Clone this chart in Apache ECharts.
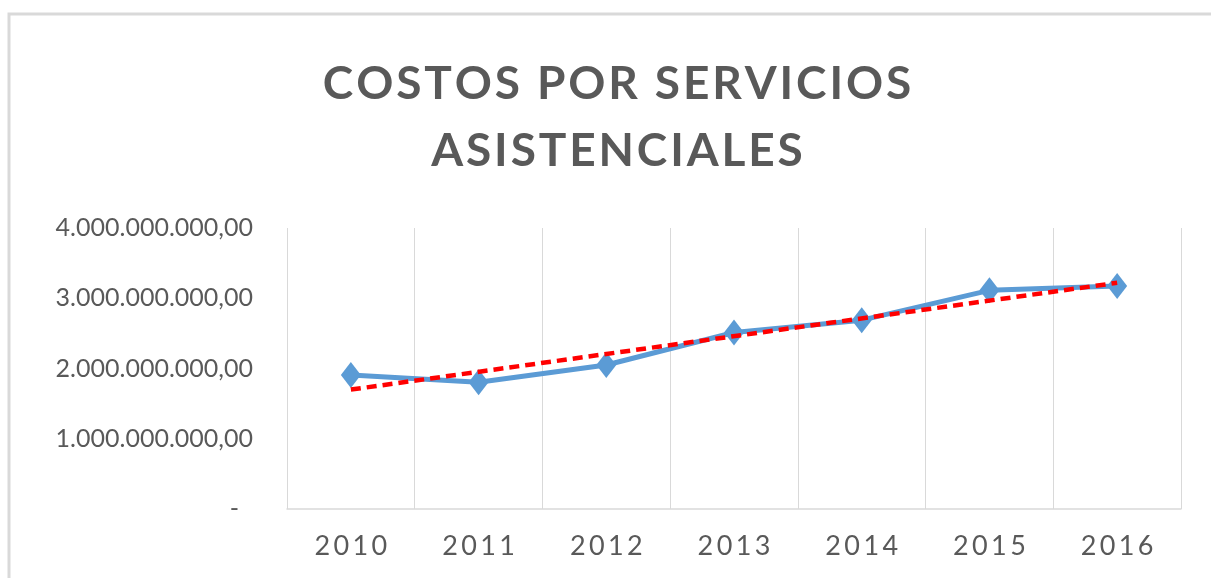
<!DOCTYPE html>
<html>
<head>
<meta charset="utf-8">
<script src="https://cdn.jsdelivr.net/npm/echarts@6/dist/echarts.min.js"></script>
<style>
html,body{margin:0;padding:0;background:#fff;}
#chart{width:1211px;height:578px;}
</style>
</head>
<body>
<div id="chart"></div>
<script>
const titleLines = ['COSTOS POR SERVICIOS', 'ASISTENCIALES'];
const years = ['2010', '2011', '2012', '2013', '2014', '2015', '2016'];
const costs = [1908000000, 1804000000, 2050000000, 2513000000, 2688000000, 3113000000, 3174000000];
// Trend line (start at 2010, end at 2016)
const trendValues = [1700000000, null, null, null, null, null, 3220000000];
const yTicks = [0, 1000000000, 2000000000, 3000000000, 4000000000];

function spaced(s, sep) { return s.split('').join(sep); }
function fmtMoney(v) {
  if (v === 0) return '{d|-}';
  const s = String(Math.round(v)).replace(/\B(?=(\d{3})+(?!\d))/g, '.');
  return s + ',00';
}

const chart = echarts.init(document.getElementById('chart'), null, {renderer: 'canvas'});
chart.setOption({
  animation: false,
  backgroundColor: '#ffffff',
  graphic: [{
    type: 'rect', shape: {x: 9, y: 14, width: 1400, height: 800},
    style: {fill: 'none', stroke: '#d9d9d9', lineWidth: 3}, silent: true
  }],
  title: {
    text: titleLines.map(l => l.split(' ').map(w => spaced(w, '\u200a')).join(' \u2009')).join('\n'),
    left: 612, textAlign: 'center', top: 46,
    textStyle: {fontFamily: 'Lato', fontWeight: 'bold', fontSize: 46, color: '#595959', lineHeight: 67}
  },
  grid: {left: 287, right: 30, top: 228, bottom: 69, containLabel: false},
  xAxis: {
    type: 'category', data: years, boundaryGap: true,
    axisLine: {show: true, lineStyle: {color: '#d9d9d9', width: 1.5}},
    axisTick: {show: false},
    splitLine: {show: true, lineStyle: {color: '#d9d9d9', width: 1}},
    axisLabel: {
      formatter: v => spaced(v, '\u2009'), margin: 24,
      fontFamily: 'Lato', fontSize: 27, color: '#595959'
    }
  },
  yAxis: {
    type: 'value', min: yTicks[0], max: yTicks[yTicks.length - 1], interval: 1000000000,
    axisLine: {show: false}, axisTick: {show: false}, splitLine: {show: false},
    axisLabel: {
      formatter: fmtMoney, margin: 34,
      fontFamily: 'Lato', fontSize: 25, color: '#595959',
      rich: {d: {fontFamily: 'Lato', fontSize: 25, color: '#595959', padding: [0, 14, 0, 0]}}
    }
  },
  series: [{
    type: 'line', data: costs, z: 3,
    lineStyle: {color: '#5b9bd5', width: 5},
    itemStyle: {color: '#5b9bd5'},
    symbol: 'diamond', symbolSize: [20, 26], showSymbol: true
  }, {
    type: 'line', data: trendValues, connectNulls: true, z: 4,
    lineStyle: {color: '#ff0000', width: 4.5, type: [10, 6]},
    symbol: 'none'
  }]
});
</script>
</body>
</html>
